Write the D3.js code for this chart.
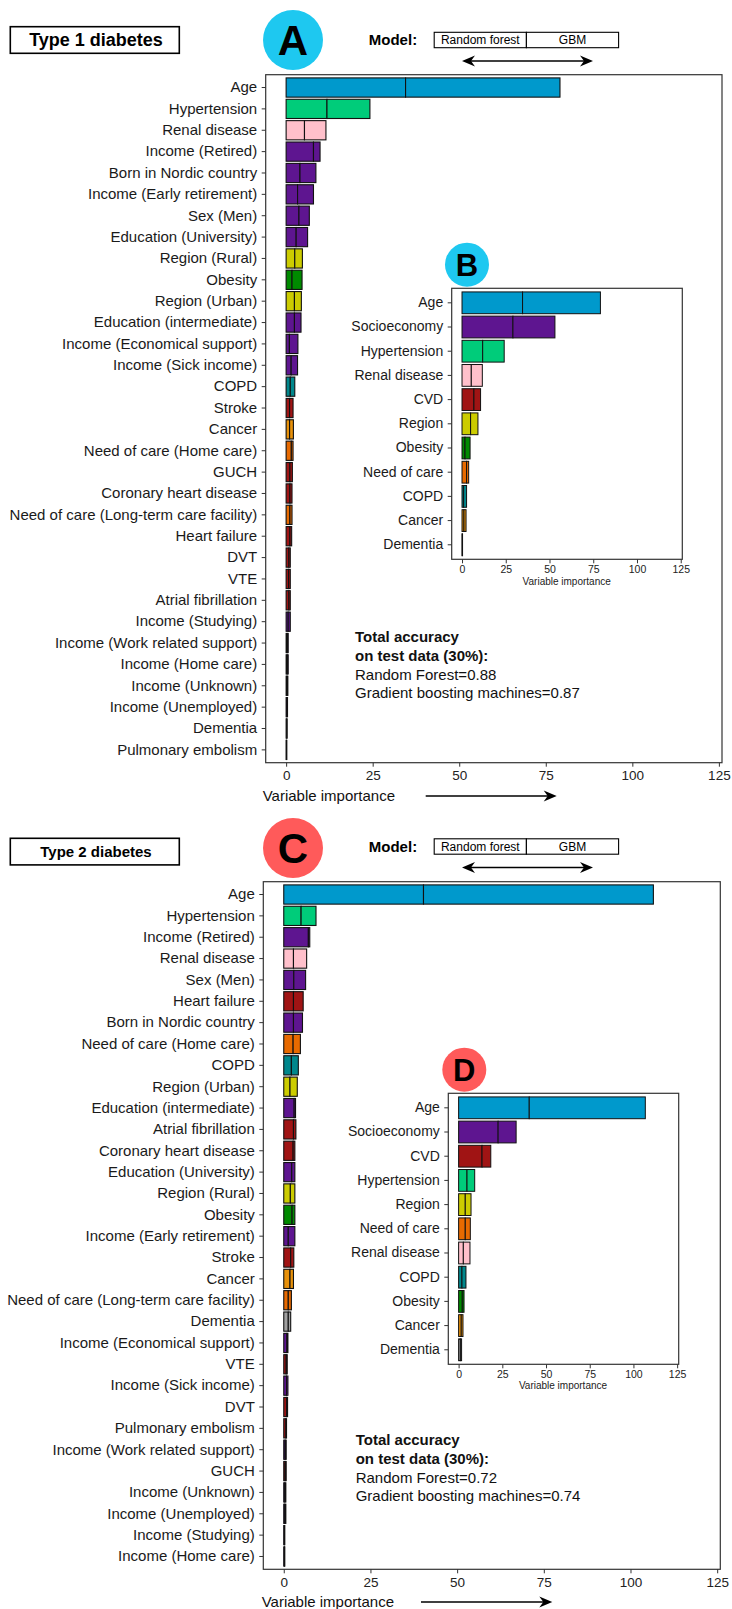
<!DOCTYPE html>
<html>
<head>
<meta charset="utf-8">
<script src="https://cdn.jsdelivr.net/npm/d3@7"></script>
<style>
  html, body { margin: 0; padding: 0; background: #fff; }
  svg { display: block; font-family: "Liberation Sans", Arial, Helvetica, sans-serif; }
</style>
</head>
<body>
<script>
// ---------- Type 1 diabetes: individual variables (panel A) ----------
const t1Vars = ["Age", "Hypertension", "Renal disease", "Income (Retired)", "Born in Nordic country",
  "Income (Early retirement)", "Sex (Men)", "Education (University)", "Region (Rural)", "Obesity",
  "Region (Urban)", "Education (intermediate)", "Income (Economical support)", "Income (Sick income)",
  "COPD", "Stroke", "Cancer", "Need of care (Home care)", "GUCH", "Coronary heart disease",
  "Need of care (Long-term care facility)", "Heart failure", "DVT", "VTE", "Atrial fibrillation",
  "Income (Studying)", "Income (Work related support)", "Income (Home care)", "Income (Unknown)",
  "Income (Unemployed)", "Dementia", "Pulmonary embolism"];
const t1RF  = [34.5, 11.8, 5.3, 7.9, 4.0, 3.3, 3.7, 2.9, 2.5, 1.7, 2.4, 2.4, 0.95, 1.45, 1.2, 1.0, 1.0, 1.5,
  1.1, 1.1, 1.1, 1.1, 0.8, 0.7, 0.8, 0.6, 0.3, 0.3, 0.25, 0.2, 0.15, 0.1];
const t1GBM = [44.6, 12.4, 6.2, 1.9, 4.6, 4.6, 3.0, 3.3, 2.2, 2.9, 2.0, 1.9, 2.45, 1.85, 1.3, 1.0, 1.1, 0.5,
  0.7, 0.6, 0.6, 0.5, 0.4, 0.5, 0.4, 0.6, 0.3, 0.3, 0.25, 0.2, 0.15, 0.1];
const t1Group = ["age", "hyp", "renal", "socio", "socio", "socio", "socio", "socio", "region", "obesity",
  "region", "socio", "socio", "socio", "copd", "cvd", "cancer", "care", "cvd", "cvd", "care", "cvd",
  "cvd", "cvd", "cvd", "socio", "socio", "socio", "socio", "socio", "dementia", "cvd"];

// ---------- Type 1 diabetes: grouped variables (panel B) ----------
const t1GroupVars = ["Age", "Socioeconomy", "Hypertension", "Renal disease", "CVD", "Region", "Obesity",
  "Need of care", "COPD", "Cancer", "Dementia"];
const t1GroupRF  = [34.6, 29.1, 11.8, 5.3, 6.8, 4.9, 1.7, 2.6, 0.9, 1.1, 0.15];
const t1GroupGBM = [44.5, 24.0, 12.3, 6.3, 3.8, 4.2, 2.9, 1.2, 1.7, 1.2, 0.15];
const t1GroupKey = ["age", "socio", "hyp", "renal", "cvd", "region", "obesity", "care", "copd", "cancer", "dementia"];

// ---------- Type 2 diabetes: individual variables (panel C) ----------
const t2Vars = ["Age", "Hypertension", "Income (Retired)", "Renal disease", "Sex (Men)", "Heart failure",
  "Born in Nordic country", "Need of care (Home care)", "COPD", "Region (Urban)", "Education (intermediate)",
  "Atrial fibrillation", "Coronary heart disease", "Education (University)", "Region (Rural)", "Obesity",
  "Income (Early retirement)", "Stroke", "Cancer", "Need of care (Long-term care facility)", "Dementia",
  "Income (Economical support)", "VTE", "Income (Sick income)", "DVT", "Pulmonary embolism",
  "Income (Work related support)", "GUCH", "Income (Unknown)", "Income (Unemployed)", "Income (Studying)",
  "Income (Home care)"];
const t2RF  = [40.3, 5.0, 7.1, 2.8, 2.9, 2.8, 2.8, 2.7, 2.2, 1.8, 3.0, 2.8, 2.7, 2.3, 1.9, 2.4, 1.3, 2.0, 1.8,
  1.3, 1.3, 0.9, 0.7, 0.8, 0.8, 0.6, 0.4, 0.4, 0.3, 0.3, 0.2, 0.2];
const t2GBM = [66.3, 4.3, 0.4, 3.8, 3.4, 2.8, 2.6, 2.1, 2.0, 2.1, 0.4, 0.7, 0.5, 0.9, 1.3, 0.8, 1.9, 0.9, 1.0,
  0.9, 0.7, 0.3, 0.3, 0.4, 0.3, 0.2, 0.3, 0.3, 0.3, 0.3, 0.1, 0.1];
const t2Group = ["age", "hyp", "socio", "renal", "socio", "cvd", "socio", "care", "copd", "region", "socio",
  "cvd", "cvd", "socio", "region", "obesity", "socio", "cvd", "cancer", "care", "dementia", "socio", "cvd",
  "socio", "cvd", "cvd", "socio", "cvd", "socio", "socio", "socio", "socio"];

// ---------- Type 2 diabetes: grouped variables (panel D) ----------
const t2GroupVars = ["Age", "Socioeconomy", "CVD", "Hypertension", "Region", "Need of care", "Renal disease",
  "COPD", "Obesity", "Cancer", "Dementia"];
const t2GroupRF  = [40.4, 22.6, 13.4, 4.8, 3.8, 3.8, 2.7, 1.9, 2.1, 1.5, 1.0];
const t2GroupGBM = [66.4, 10.3, 5.0, 4.4, 3.3, 2.9, 3.8, 2.3, 1.0, 1.0, 0.7];
const t2GroupKey = ["age", "socio", "cvd", "hyp", "region", "care", "renal", "copd", "obesity", "cancer", "dementia"];

// ---------- shared ----------
const xTicks = [0, 25, 50, 75, 100, 125];
const modelNames = ["Random forest", "GBM"];
const groupColor = {
  age: "#0099CC", hyp: "#00CC7A", renal: "#FFC0CB", socio: "#5E1590", region: "#CCCC00",
  obesity: "#008A00", copd: "#00878C", cvd: "#A01414", cancer: "#E8910A", care: "#E86A00", dementia: "#A0A0A0"
};

const W = 732, H = 1609;
const svg = d3.select("body").append("svg").attr("width", W).attr("height", H);

function arrowHead(g, x, y, dir) {
  // filled arrow head pointing left (dir=-1) or right (dir=1)
  const L = 13, h = 5.5, notch = 4;
  const p = d3.path();
  p.moveTo(x, y);
  p.lineTo(x - dir * L, y - h);
  p.lineTo(x - dir * (L - notch), y);
  p.lineTo(x - dir * L, y + h);
  p.closePath();
  g.append("path").attr("d", p.toString()).attr("fill", "#000");
}

function arrow(g, x1, x2, y, both) {
  g.append("line").attr("x1", x1 + (both ? 6 : 0)).attr("x2", x2 - 6).attr("y1", y).attr("y2", y)
    .attr("stroke", "#000").attr("stroke-width", 1.6);
  arrowHead(g, x2, y, 1);
  if (both) arrowHead(g, x1, y, -1);
}

function drawBars(g, cfg) {
  const rows = cfg.vars.map((v, i) => ({ name: v, rf: cfg.rf[i], gbm: cfg.gbm[i], key: cfg.key[i] }));
  const x = d3.scaleLinear().domain([-5.9, 125.9]).range([cfg.x0, cfg.x1]);
  const y = d3.scaleBand().domain(cfg.vars).range([cfg.y0, cfg.y1]).paddingInner(0.1).paddingOuter(0.15);

  // white panel background
  g.append("rect").attr("x", cfg.x0).attr("y", cfg.y0).attr("width", cfg.x1 - cfg.x0)
    .attr("height", cfg.y1 - cfg.y0).attr("fill", "#fff");

  const series = d3.stack().keys(["rf", "gbm"])(rows);
  g.append("g").selectAll("g").data(series).join("g")
    .selectAll("rect").data(d => d.map(s => ({ s, row: s.data })))
    .join("rect")
    .attr("x", d => x(d.s[0]))
    .attr("y", d => y(d.row.name))
    .attr("width", d => Math.max(0, x(d.s[1]) - x(d.s[0])))
    .attr("height", y.bandwidth())
    .attr("fill", d => groupColor[d.row.key])
    .attr("stroke", "#111")
    .attr("stroke-width", cfg.stroke || 1.1);

  // frame
  g.append("rect").attr("x", cfg.x0).attr("y", cfg.y0).attr("width", cfg.x1 - cfg.x0)
    .attr("height", cfg.y1 - cfg.y0).attr("fill", "none").attr("stroke", "#333").attr("stroke-width", 1.2);

  const ax = g.append("g").attr("transform", `translate(0,${cfg.y1})`)
    .call(d3.axisBottom(x).tickValues(xTicks).tickSize(4).tickPadding(cfg.tickPad));
  ax.select(".domain").remove();
  ax.selectAll("line").attr("stroke", "#333");
  ax.selectAll("text").attr("fill", "#222").style("font-size", cfg.tickFont + "px")
    .style("font-family", "\"Liberation Sans\", Arial, sans-serif");

  const ay = g.append("g").attr("transform", `translate(${cfg.x0},0)`)
    .call(d3.axisLeft(y).tickSize(4).tickPadding(4.5));
  ay.select(".domain").remove();
  ay.selectAll("line").attr("stroke", "#333");
  ay.selectAll("text").attr("fill", "#1a1a1a").style("font-size", cfg.labelFont + "px")
    .style("font-family", "\"Liberation Sans\", Arial, sans-serif");
  return x;
}

function header(g, cfg) {
  // diabetes type box
  g.append("rect").attr("x", 10.3).attr("y", cfg.boxY).attr("width", 169).attr("height", 26.6)
    .attr("fill", "#fff").attr("stroke", "#000").attr("stroke-width", 1.6);
  g.append("text").attr("x", 96).attr("y", cfg.boxY + 13.3).attr("dy", "0.36em")
    .attr("text-anchor", "middle").attr("font-weight", "bold").attr("font-size", cfg.titleFont)
    .attr("fill", "#000").text(cfg.title);

  // panel letter
  g.append("circle").attr("cx", 293).attr("cy", cfg.cy).attr("r", 30).attr("fill", cfg.circleColor);
  g.append("text").attr("x", 293).attr("y", cfg.cy).attr("dy", "0.36em").attr("text-anchor", "middle")
    .attr("font-weight", "bold").attr("font-size", 42).attr("fill", "#000").text(cfg.letter);

  // model legend
  g.append("text").attr("x", 368.8).attr("y", cfg.my).attr("dy", "0.36em").attr("font-weight", "bold")
    .attr("font-size", 15).attr("fill", "#000").text("Model:");
  const lx = d3.scaleBand().domain(modelNames).range([434.2, 618.6]);
  g.selectAll(null).data(modelNames).join("rect")
    .attr("x", d => lx(d)).attr("y", cfg.my - 7.7).attr("width", lx.bandwidth()).attr("height", 15.4)
    .attr("fill", "#fff").attr("stroke", "#000").attr("stroke-width", 1.1);
  g.selectAll(null).data(modelNames).join("text")
    .attr("x", d => lx(d) + lx.bandwidth() / 2).attr("y", cfg.my).attr("dy", "0.36em")
    .attr("text-anchor", "middle").attr("font-size", 12).attr("fill", "#000").text(d => d);
  arrow(g, 462, 593, cfg.my + 21, true);
}

function accuracy(g, x, y, rf, gbm) {
  const lines = [["Total accuracy", true], ["on test data (30%):", true],
    ["Random Forest=" + rf, false], ["Gradient boosting machines=" + gbm, false]];
  g.selectAll(null).data(lines).join("text")
    .attr("x", x).attr("y", (d, i) => y + i * 18.6).attr("dy", "0.36em")
    .attr("font-size", 15).attr("font-weight", d => d[1] ? "bold" : "normal").attr("fill", "#111")
    .text(d => d[0]);
}

function insetTitle(g, cx, cy, letter, color) {
  g.append("circle").attr("cx", cx).attr("cy", cy).attr("r", 22).attr("fill", color);
  g.append("text").attr("x", cx).attr("y", cy).attr("dy", "0.36em").attr("text-anchor", "middle")
    .attr("font-weight", "bold").attr("font-size", 31).attr("fill", "#000").text(letter);
}

function bottomTitle(g, x, y) {
  g.append("text").attr("x", x).attr("y", y).attr("dy", "0.36em").attr("font-size", 15)
    .attr("fill", "#111").text("Variable importance");
}

// ===== Type 1 diabetes =====
const gA = svg.append("g");
header(gA, { boxY: 26.7, title: "Type 1 diabetes", titleFont: 18, cy: 40, circleColor: "#1EC8F0", letter: "A", my: 40 });
drawBars(gA, { vars: t1Vars, rf: t1RF, gbm: t1GBM, key: t1Group, x0: 265.7, x1: 722, y0: 74.7, y1: 762.7,
  labelFont: 15, tickFont: 13.5, tickPad: 4 });
bottomTitle(gA, 262.7, 796);
arrow(gA, 425.7, 556.7, 796, false);
accuracy(gA, 355, 637, "0.88", "0.87");

const gB = svg.append("g");
drawBars(gB, { vars: t1GroupVars, rf: t1GroupRF, gbm: t1GroupGBM, key: t1GroupKey,
  x0: 451.7, x1: 682.3, y0: 288.3, y1: 559.3, labelFont: 14, tickFont: 10.5, tickPad: 2.5, stroke: 1 });
gB.append("text").attr("x", 566.7).attr("y", 581).attr("dy", "0.36em").attr("text-anchor", "middle")
  .attr("font-size", 10).attr("fill", "#222").text("Variable importance");
insetTitle(gB, 467, 264.7, "B", "#1EC8F0");

// ===== Type 2 diabetes =====
const gC = svg.append("g");
header(gC, { boxY: 838.3, title: "Type 2 diabetes", titleFont: 15, cy: 848, circleColor: "#FF5A5A", letter: "C", my: 846.5 });
drawBars(gC, { vars: t2Vars, rf: t2RF, gbm: t2GBM, key: t2Group, x0: 263.3, x1: 720.3, y0: 881.7, y1: 1569.3,
  labelFont: 15, tickFont: 13.5, tickPad: 4 });
bottomTitle(gC, 261.7, 1601.5);
arrow(gC, 421, 552.3, 1602, false);
accuracy(gC, 355.7, 1440, "0.72", "0.74");

const gD = svg.append("g");
drawBars(gD, { vars: t2GroupVars, rf: t2GroupRF, gbm: t2GroupGBM, key: t2GroupKey,
  x0: 448.3, x1: 678.7, y0: 1093.3, y1: 1364.3, labelFont: 14, tickFont: 10.5, tickPad: 2.5, stroke: 1 });
gD.append("text").attr("x", 563).attr("y", 1385.3).attr("dy", "0.36em").attr("text-anchor", "middle")
  .attr("font-size", 10).attr("fill", "#222").text("Variable importance");
insetTitle(gD, 464.3, 1069.7, "D", "#FF5A5A");
</script>
</body>
</html>
